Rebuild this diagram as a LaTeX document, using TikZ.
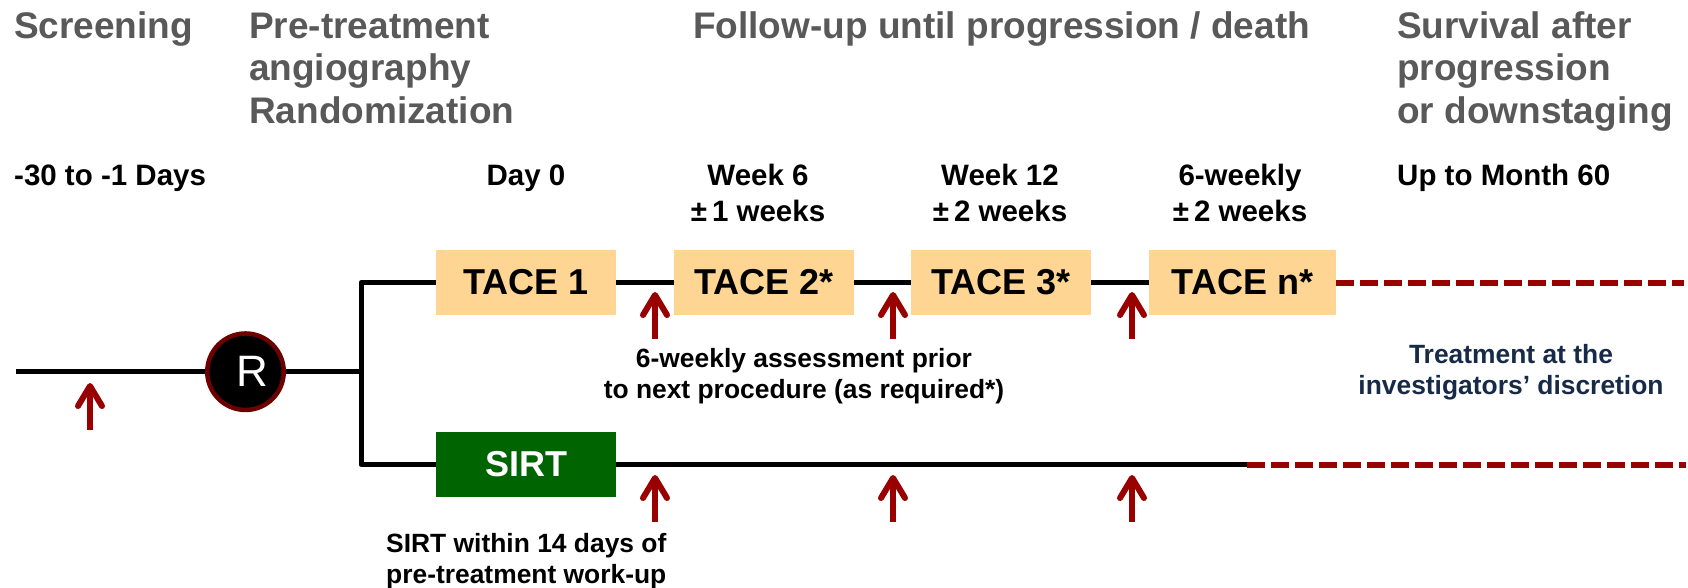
\documentclass[tikz,border=0pt]{standalone}
\usepackage{fontspec}
\setmainfont{Liberation Sans}
\usetikzlibrary{arrows.meta}
\pgfdeclarelayer{background}
\pgfsetlayers{background,main}

\definecolor{hdrgray}{RGB}{89,89,89}
\definecolor{arrowred}{RGB}{153,0,0}
\definecolor{ringred}{RGB}{110,0,0}
\definecolor{taceorange}{RGB}{254,213,146}
\definecolor{sirtgreen}{RGB}{0,100,0}
\definecolor{navy}{RGB}{23,43,72}

\newcommand{\pmgap}{±\kern5pt}

\begin{document}
\begin{tikzpicture}[x=1pt,y=-1pt,
  hdr/.style={inner sep=0pt, anchor=base west, align=left, text=hdrgray,
    font=\fontsize{37}{42.5}\selectfont\bfseries},
  when/.style={inner sep=0pt, anchor=base, align=center,
    font=\fontsize{29.5}{36}\selectfont\bfseries},
  note/.style={inner sep=0pt, font=\fontsize{26.4}{31}\selectfont\bfseries},
  tacebox/.style={fill=taceorange, minimum width=180pt, minimum height=65pt,
    inner sep=0pt, font=\fontsize{36}{40}\selectfont\bfseries},
  sirtbox/.style={tacebox, fill=sirtgreen, text=white},
  timeline/.style={line width=5pt, black, line join=round},
  later/.style={line width=6pt, arrowred, dash pattern=on 18pt off 6pt},
  upar/.style={line width=6pt, arrowred,
    -{Straight Barb[length=20pt,width=24pt,round]}},
]
\path[use as bounding box] (0,0) rectangle (1688,587);

% phase headings (multi-line nodes sit on the baseline of their last line)
\node[hdr] (screening) at (14,38) {Screening};
\node[hdr] (pretreat) at (249,123) {Pre-treatment\\angiography\\Randomization};
\node[hdr] (followup) at (693,38) {Follow-up until progression / death};
\node[hdr] (survival) at (1397,123) {Survival after\\progression\\or downstaging};

% time points
\node[when, anchor=base west] (tscreen) at (14,185) {-30 to -1 Days};
\node[when] (tday0) at (526,185) {Day 0};
\node[when] (tw6) at (758,221) {Week 6\\\pmgap 1 weeks};
\node[when] (tw12) at (1000,221) {Week 12\\\pmgap 2 weeks};
\node[when] (tn) at (1240,221) {6-weekly\\\pmgap 2 weeks};
\node[when, anchor=base west] (tmonth) at (1397,185) {Up to Month 60};

% treatment boxes
\node[tacebox] (tace1) at (526,282.5) {TACE 1};
\node[tacebox] (tace2) at (764,282.5) {TACE 2*};
\node[tacebox] (tace3) at (1001,282.5) {TACE 3*};
\node[tacebox, minimum width=187pt] (tacen) at (1242.5,282.5) {TACE n*};
\node[sirtbox] (sirt) at (526,464.5) {SIRT};

% randomisation
\node[circle, draw=ringred, line width=4.5pt, fill=black, minimum size=76.5pt,
  inner sep=0pt, text=white, font=\fontsize{44}{44}\selectfont]
  (rand) at (245.5,371.7) {\hspace*{14pt}R};

% free ends of the timelines
\coordinate (start) at (16,371.7);
\coordinate (split) at (361,371.7);
\coordinate (sirtend) at (1247,464.5);
\coordinate (sirtfar) at (1686,464.5);
\coordinate (tacefar) at (1684,282.5);

\begin{pgfonlayer}{background}
  \fill[white] (0,0) rectangle (1688,587);
  \draw[timeline] (start) -- (rand);
  \draw[timeline] (rand) -- (split);
  \draw[timeline] (split) |- (tace1.west);
  \draw[timeline] (split) |- (sirt.west);
  \draw[timeline] (tace1) -- (tace2);
  \draw[timeline] (tace2) -- (tace3);
  \draw[timeline] (tace3) -- (tacen);
  \draw[timeline] (sirt) -- (sirtend);
  \draw[later] (tacen.east) -- (tacefar);
  \draw[later] (sirtend) -- (sirtfar);
\end{pgfonlayer}

% assessment markers
\coordinate (m0a) at (90,430);
\coordinate (m0b) at (90,383);
\draw[upar] (m0a) -- (m0b);
\foreach \i/\x in {1/655,2/893,3/1132}{
  \coordinate (mt\i a) at (\x,339);
  \coordinate (mt\i b) at (\x,292);
  \coordinate (mb\i a) at (\x,522);
  \coordinate (mb\i b) at (\x,475);
  \draw[upar] (mt\i a) -- (mt\i b);
  \draw[upar] (mb\i a) -- (mb\i b);
}

% annotations
\node[note, align=center, anchor=base] (assess) at (804,398)
  {6-weekly assessment prior\\to next procedure (as required*)};
\node[note, align=center, anchor=base, text=navy] (discr) at (1511,394)
  {Treatment at the\\investigators’ discretion};
\node[note, align=left, anchor=base west] (sirtnote) at (386,583)
  {SIRT within 14 days of\\pre-treatment work-up};
\end{tikzpicture}
\end{document}
